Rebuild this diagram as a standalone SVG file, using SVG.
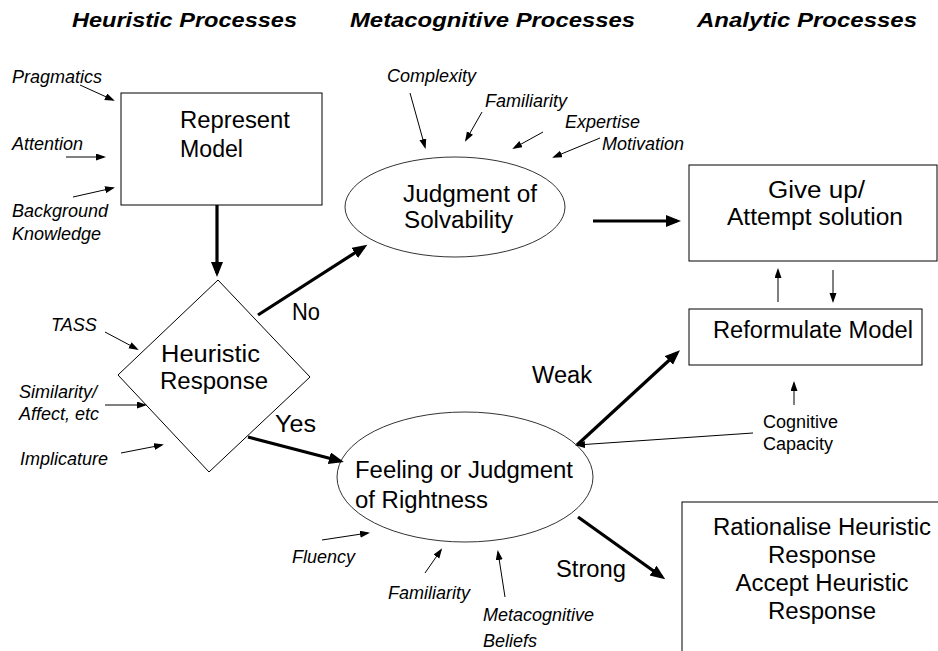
<svg xmlns="http://www.w3.org/2000/svg" width="938" height="651" viewBox="0 0 938 651">
<style>
.title{font-family:"Liberation Sans",Arial,sans-serif;font-size:20px;font-weight:bold;font-style:italic;fill:#000}
.node{font-family:"Liberation Sans",Arial,sans-serif;font-size:23px;fill:#000}
.lab{font-family:"Liberation Sans",Arial,sans-serif;font-size:18px;font-style:italic;fill:#000}
.cap{font-family:"Liberation Sans",Arial,sans-serif;font-size:18px;fill:#000}
.shape{fill:#fff;stroke:#000;stroke-width:1}
.ell{fill:#fff;stroke:#333;stroke-width:1}
.thin{stroke:#000;stroke-width:1;fill:none;marker-end:url(#ah)}
.thick{stroke:#000;stroke-width:3.2;fill:none;marker-end:url(#AH)}
</style>
<defs>
<marker id="ah" markerUnits="userSpaceOnUse" markerWidth="10" markerHeight="8" refX="8" refY="3.5" orient="auto"><path d="M0,0 L10,3.5 L0,7 z" fill="#000"/></marker>
<marker id="AH" markerUnits="userSpaceOnUse" markerWidth="16" markerHeight="14" refX="11" refY="6" orient="auto"><path d="M0,0 L15,6 L0,12 z" fill="#000"/></marker>
</defs>
<rect width="938" height="651" fill="#fff"/>
<g id="titles">
<text class="title" x="72" y="27" textLength="225" lengthAdjust="spacingAndGlyphs">Heuristic Processes</text>
<text class="title" x="350" y="27" textLength="285" lengthAdjust="spacingAndGlyphs">Metacognitive Processes</text>
<text class="title" x="697" y="27" textLength="220" lengthAdjust="spacingAndGlyphs">Analytic Processes</text>
</g>
<g id="represent">
<rect class="shape" x="121" y="93" width="201" height="112"/>
<text class="node" x="180" y="128" textLength="110" lengthAdjust="spacingAndGlyphs">Represent</text>
<text class="node" x="180" y="157" textLength="63" lengthAdjust="spacingAndGlyphs">Model</text>
</g>
<g id="heuristic">
<polygon class="shape" points="218,280 310,377 209,472 118,375"/>
<text class="node" x="161" y="362" textLength="99" lengthAdjust="spacingAndGlyphs">Heuristic</text>
<text class="node" x="160" y="389" textLength="108" lengthAdjust="spacingAndGlyphs">Response</text>
</g>
<g id="solvability">
<ellipse class="ell" cx="455" cy="207" rx="110" ry="50"/>
<text class="node" x="403" y="202" textLength="134" lengthAdjust="spacingAndGlyphs">Judgment of</text>
<text class="node" x="404" y="228" textLength="109" lengthAdjust="spacingAndGlyphs">Solvability</text>
</g>
<g id="giveup">
<rect class="shape" x="689" y="165" width="248" height="96"/>
<text class="node" x="768" y="198" textLength="97" lengthAdjust="spacingAndGlyphs">Give up/</text>
<text class="node" x="727" y="225" textLength="176" lengthAdjust="spacingAndGlyphs">Attempt solution</text>
</g>
<g id="reformulate">
<rect class="shape" x="689" y="309" width="233" height="56"/>
<text class="node" x="713" y="338" textLength="200" lengthAdjust="spacingAndGlyphs">Reformulate Model</text>
</g>
<g id="rightness">
<ellipse class="ell" cx="465" cy="477" rx="128" ry="65"/>
<text class="node" x="355" y="478" textLength="218" lengthAdjust="spacingAndGlyphs">Feeling or Judgment</text>
<text class="node" x="355" y="508" textLength="133" lengthAdjust="spacingAndGlyphs">of Rightness</text>
</g>
<g id="rationalise">
<rect class="shape" x="682" y="502" width="300" height="200"/>
<text class="node" x="822" y="535" text-anchor="middle" textLength="218" lengthAdjust="spacingAndGlyphs">Rationalise Heuristic</text>
<text class="node" x="822" y="563" text-anchor="middle" textLength="108" lengthAdjust="spacingAndGlyphs">Response</text>
<text class="node" x="822" y="591" text-anchor="middle" textLength="173" lengthAdjust="spacingAndGlyphs">Accept Heuristic</text>
<text class="node" x="822" y="619" text-anchor="middle" textLength="108" lengthAdjust="spacingAndGlyphs">Response</text>
</g>
<g id="factors">
<text class="lab" x="12" y="83">Pragmatics</text>
<text class="lab" x="12" y="150">Attention</text>
<text class="lab" x="12" y="217">Background</text>
<text class="lab" x="12" y="240">Knowledge</text>
<text class="lab" x="387" y="82">Complexity</text>
<text class="lab" x="485" y="107">Familiarity</text>
<text class="lab" x="565" y="128">Expertise</text>
<text class="lab" x="602" y="150">Motivation</text>
<text class="lab" x="51" y="331">TASS</text>
<text class="lab" x="19" y="398">Similarity/</text>
<text class="lab" x="19" y="420">Affect, etc</text>
<text class="lab" x="20" y="465">Implicature</text>
<text class="lab" x="292" y="563">Fluency</text>
<text class="lab" x="388" y="599">Familiarity</text>
<text class="lab" x="483" y="621">Metacognitive</text>
<text class="lab" x="483" y="647">Beliefs</text>
<text class="cap" x="763" y="428">Cognitive</text>
<text class="cap" x="763" y="450">Capacity</text>
</g>
<g id="edge-labels">
<text class="node" x="292" y="320" textLength="28" lengthAdjust="spacingAndGlyphs">No</text>
<text class="node" x="275" y="432" textLength="41" lengthAdjust="spacingAndGlyphs">Yes</text>
<text class="node" x="532" y="383" textLength="60" lengthAdjust="spacingAndGlyphs">Weak</text>
<text class="node" x="556" y="577" textLength="70" lengthAdjust="spacingAndGlyphs">Strong</text>
</g>
<g id="connectors">
<line class="thin" x1="80" y1="85" x2="113" y2="100"/>
<line class="thin" x1="66" y1="157" x2="104" y2="157"/>
<line class="thin" x1="73" y1="197" x2="113" y2="188"/>
<line class="thin" x1="410" y1="93" x2="425" y2="147"/>
<line class="thin" x1="482" y1="112" x2="466" y2="140"/>
<line class="thin" x1="543" y1="132" x2="514" y2="148"/>
<line class="thin" x1="600" y1="138" x2="554" y2="157"/>
<line class="thin" x1="105" y1="332" x2="137" y2="349"/>
<line class="thin" x1="105" y1="405" x2="145" y2="405"/>
<line class="thin" x1="121" y1="453" x2="162" y2="445"/>
<line class="thin" x1="778" y1="302" x2="778" y2="270"/>
<line class="thin" x1="833" y1="270" x2="833" y2="301"/>
<line class="thin" x1="794" y1="405" x2="794" y2="383"/>
<line class="thin" x1="753" y1="433" x2="577" y2="445"/>
<line class="thin" x1="322" y1="540" x2="368" y2="533"/>
<line class="thin" x1="425" y1="573" x2="441" y2="550"/>
<line class="thin" x1="505" y1="597" x2="498" y2="552"/>
<line class="thick" x1="217" y1="205" x2="217" y2="273"/>
<line class="thick" x1="258" y1="315" x2="364" y2="247"/>
<line class="thick" x1="248" y1="437" x2="340" y2="461"/>
<line class="thick" x1="593" y1="221" x2="677" y2="221"/>
<line class="thick" x1="577" y1="445" x2="677" y2="353"/>
<line class="thick" x1="578" y1="517" x2="662" y2="577"/>
</g>
</svg>
